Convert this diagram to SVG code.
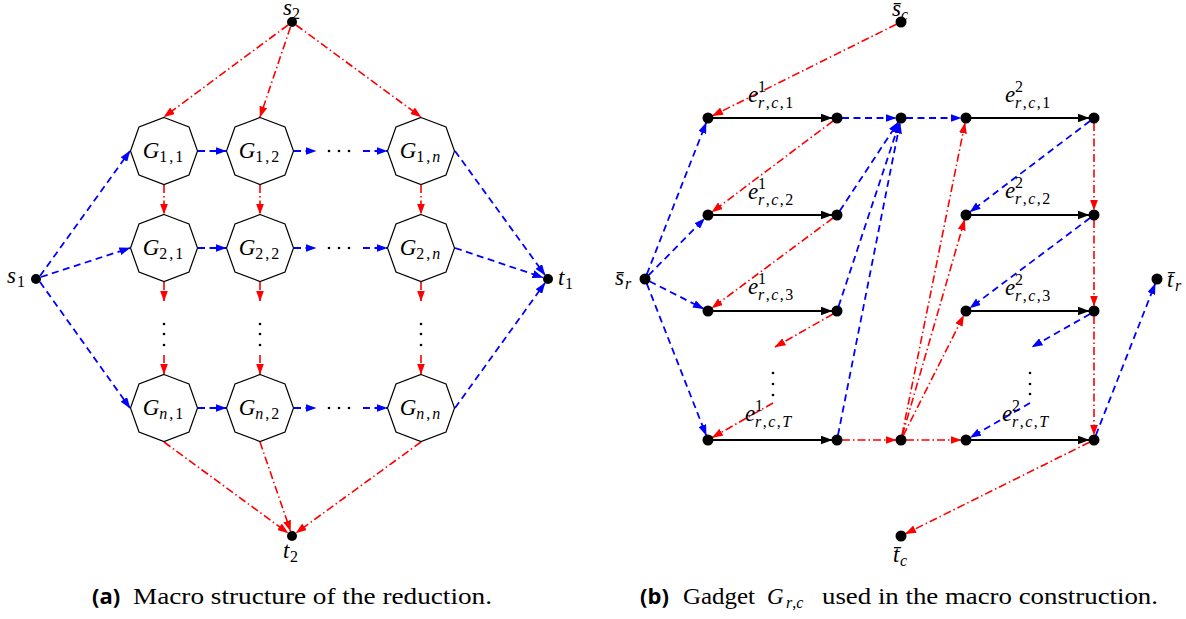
<svg xmlns="http://www.w3.org/2000/svg" width="1186" height="619" viewBox="0 0 1186 619">
<style>
.bl{stroke:#0000ff;stroke-width:1.8;stroke-dasharray:7 4.5;fill:none;marker-end:url(#ab)}
.rd{stroke:#ff0000;stroke-width:1.6;stroke-dasharray:8 3 1.5 3;fill:none;marker-end:url(#ar)}
.bk{stroke:#000;stroke-width:1.8;fill:none;marker-end:url(#ak)}
.oct{fill:#fff;stroke:#000;stroke-width:1.2}
.dot{fill:#000}
.m{font-style:italic;font-size:23px;fill:#000}
.sb{font-size:16px}
.rm{font-style:normal}
.cap{font-size:24px;fill:#000}
.lab{font-weight:bold;font-size:22px;fill:#000}
</style>
<defs>
<marker id="ab" markerUnits="userSpaceOnUse" markerWidth="11" markerHeight="8" refX="10.5" refY="4" orient="auto"><path d="M0,0 L11,4 L0,8 z" fill="#0000ff"/></marker>
<marker id="ar" markerUnits="userSpaceOnUse" markerWidth="11" markerHeight="8" refX="10.5" refY="4" orient="auto"><path d="M0,0 L11,4 L0,8 z" fill="#ff0000"/></marker>
<marker id="ak" markerUnits="userSpaceOnUse" markerWidth="12" markerHeight="9" refX="11.5" refY="4.5" orient="auto"><path d="M0,0 L12,4.5 L0,9 z" fill="#000"/></marker>
</defs>
<rect width="1186" height="619" fill="#fff"/>

<g id="connectors">
<line class="rd" x1="288" y1="25" x2="164" y2="117"/>
<line class="rd" x1="290.5" y1="27" x2="260" y2="117"/>
<line class="rd" x1="296" y1="25" x2="421" y2="117"/>
<line class="bl" x1="40" y1="276" x2="130" y2="151"/>
<line class="bl" x1="41" y1="277" x2="130" y2="248"/>
<line class="bl" x1="40" y1="282" x2="130" y2="408"/>
<line class="bl" x1="455" y1="151" x2="545" y2="275"/>
<line class="bl" x1="455" y1="248" x2="543" y2="277.5"/>
<line class="bl" x1="455" y1="408" x2="545" y2="283"/>
<line class="rd" x1="164" y1="442" x2="288" y2="533"/>
<line class="rd" x1="260" y1="442" x2="290.5" y2="531"/>
<line class="rd" x1="421" y1="442" x2="296" y2="533"/>
<line class="bl" x1="198" y1="151" x2="226" y2="151"/>
<line class="bl" x1="294" y1="151" x2="316" y2="151"/>
<line class="bl" x1="363" y1="151" x2="387" y2="151"/>
<line class="bl" x1="198" y1="248" x2="226" y2="248"/>
<line class="bl" x1="294" y1="248" x2="316" y2="248"/>
<line class="bl" x1="363" y1="248" x2="387" y2="248"/>
<line class="bl" x1="198" y1="408" x2="226" y2="408"/>
<line class="bl" x1="294" y1="408" x2="316" y2="408"/>
<line class="bl" x1="363" y1="408" x2="387" y2="408"/>
<line class="rd" x1="164" y1="185" x2="164" y2="214"/>
<line class="rd" x1="164" y1="282" x2="164" y2="301"/>
<line class="rd" x1="164" y1="355" x2="164" y2="374"/>
<line class="rd" x1="260" y1="185" x2="260" y2="214"/>
<line class="rd" x1="260" y1="282" x2="260" y2="301"/>
<line class="rd" x1="260" y1="355" x2="260" y2="374"/>
<line class="rd" x1="421" y1="185" x2="421" y2="214"/>
<line class="rd" x1="421" y1="282" x2="421" y2="301"/>
<line class="rd" x1="421" y1="355" x2="421" y2="374"/>

<line class="bl" x1="646.8" y1="274.3" x2="706.2" y2="122.7"/>
<line class="bl" x1="648.5" y1="275.4" x2="704.5" y2="218.6"/>
<line class="bl" x1="649.5" y1="281.3" x2="703.5" y2="308.7"/>
<line class="bl" x1="646.8" y1="283.7" x2="706.2" y2="435.3"/>
<line class="rd" x1="896.5" y1="24.2" x2="712.5" y2="115.8"/>
<line class="bk" x1="713" y1="118" x2="832" y2="118"/>
<line class="bk" x1="713" y1="215" x2="832" y2="215"/>
<line class="bk" x1="713" y1="311" x2="832" y2="311"/>
<line class="bk" x1="713" y1="440" x2="832" y2="440"/>
<line class="bk" x1="971" y1="118" x2="1089" y2="118"/>
<line class="bk" x1="971" y1="215" x2="1089" y2="215"/>
<line class="bk" x1="971" y1="311" x2="1089" y2="311"/>
<line class="bk" x1="971" y1="440" x2="1089" y2="440"/>
<line class="bl" x1="842" y1="118" x2="896" y2="118"/>
<line class="bl" x1="906" y1="118" x2="961" y2="118"/>
<line class="rd" x1="833" y1="121" x2="712" y2="212"/>
<line class="rd" x1="833" y1="218" x2="712" y2="308"/>
<line class="rd" x1="833" y1="314" x2="775" y2="347"/>
<line class="rd" x1="773" y1="403" x2="712.3" y2="437.5"/>
<line class="bl" x1="839.8" y1="210.8" x2="898.2" y2="122.2"/>
<line class="bl" x1="838.6" y1="306.3" x2="899.4" y2="122.7"/>
<line class="bl" x1="838" y1="435.1" x2="900" y2="122.9"/>
<line class="rd" x1="842" y1="440" x2="896" y2="440"/>
<line class="rd" x1="906" y1="440" x2="961" y2="440"/>
<line class="rd" x1="902" y1="435.1" x2="965" y2="122.9"/>
<line class="rd" x1="902.4" y1="435.2" x2="964.6" y2="219.8"/>
<line class="rd" x1="903.3" y1="435.5" x2="963.7" y2="315.5"/>
<line class="bl" x1="1090" y1="121" x2="970" y2="212"/>
<line class="bl" x1="1090" y1="218" x2="970" y2="308"/>
<line class="bl" x1="1090" y1="314" x2="1032" y2="347"/>
<line class="bl" x1="1030" y1="403" x2="970.3" y2="437.5"/>
<line class="rd" x1="1094" y1="123" x2="1094" y2="210"/>
<line class="rd" x1="1094" y1="220" x2="1094" y2="306"/>
<line class="rd" x1="1094" y1="316" x2="1094" y2="435"/>
<line class="bl" x1="1095.8" y1="435.3" x2="1155.2" y2="283.7"/>
<line class="rd" x1="1089.5" y1="442.2" x2="905.5" y2="533.8"/>
</g>

<g id="ellipses" class="dot">
<circle cx="329" cy="151" r="1.3"/><circle cx="339" cy="151" r="1.3"/><circle cx="349" cy="151" r="1.3"/>
<circle cx="329" cy="248" r="1.3"/><circle cx="339" cy="248" r="1.3"/><circle cx="349" cy="248" r="1.3"/>
<circle cx="329" cy="408" r="1.3"/><circle cx="339" cy="408" r="1.3"/><circle cx="349" cy="408" r="1.3"/>
<circle cx="164" cy="324" r="1.3"/><circle cx="164" cy="334" r="1.3"/><circle cx="164" cy="345" r="1.3"/>
<circle cx="260" cy="324" r="1.3"/><circle cx="260" cy="334" r="1.3"/><circle cx="260" cy="345" r="1.3"/>
<circle cx="421" cy="324" r="1.3"/><circle cx="421" cy="334" r="1.3"/><circle cx="421" cy="345" r="1.3"/>
<circle cx="773" cy="373" r="1.3"/><circle cx="773" cy="384" r="1.3"/><circle cx="773" cy="395" r="1.3"/>
<circle cx="1030" cy="373" r="1.3"/><circle cx="1030" cy="384" r="1.3"/><circle cx="1030" cy="394" r="1.3"/>
</g>

<g font-family="Liberation Serif, serif">
<g id="s2"><circle class="dot" cx="292" cy="22" r="5"/><text class="m" x="283" y="15">s<tspan class="sb rm" x="292" y="19">2</tspan></text></g>
<g id="s1"><circle class="dot" cx="36" cy="279" r="5"/><text class="m" x="7" y="283">s<tspan class="sb rm" x="17" y="287">1</tspan></text></g>
<g id="t1"><circle class="dot" cx="548" cy="279" r="5"/><text class="m" x="558" y="285">t<tspan class="sb rm" x="565" y="289">1</tspan></text></g>
<g id="t2"><circle class="dot" cx="292" cy="536" r="5"/><text class="m" x="283" y="558">t<tspan class="sb rm" x="290" y="562">2</tspan></text></g>

<g id="G11"><polygon class="oct" points="164,117.5 189,127 197.5,151 189,175 164,184.5 139,175 130.5,151 139,127"/><text class="m" x="164" y="158" text-anchor="middle">G<tspan class="sb rm" dy="4" letter-spacing="2">1,1</tspan></text></g>
<g id="G12"><polygon class="oct" points="260,117.5 285,127 293.5,151 285,175 260,184.5 235,175 226.5,151 235,127"/><text class="m" x="260" y="158" text-anchor="middle">G<tspan class="sb rm" dy="4" letter-spacing="2">1,2</tspan></text></g>
<g id="G1n"><polygon class="oct" points="421,117.5 446,127 454.5,151 446,175 421,184.5 396,175 387.5,151 396,127"/><text class="m" x="421" y="158" text-anchor="middle">G<tspan class="sb" dy="4" letter-spacing="2"><tspan class="rm">1,</tspan>n</tspan></text></g>
<g id="G21"><polygon class="oct" points="164,214.5 189,224 197.5,248 189,272 164,281.5 139,272 130.5,248 139,224"/><text class="m" x="164" y="255" text-anchor="middle">G<tspan class="sb rm" dy="4" letter-spacing="2">2,1</tspan></text></g>
<g id="G22"><polygon class="oct" points="260,214.5 285,224 293.5,248 285,272 260,281.5 235,272 226.5,248 235,224"/><text class="m" x="260" y="255" text-anchor="middle">G<tspan class="sb rm" dy="4" letter-spacing="2">2,2</tspan></text></g>
<g id="G2n"><polygon class="oct" points="421,214.5 446,224 454.5,248 446,272 421,281.5 396,272 387.5,248 396,224"/><text class="m" x="421" y="255" text-anchor="middle">G<tspan class="sb" dy="4" letter-spacing="2"><tspan class="rm">2,</tspan>n</tspan></text></g>
<g id="Gn1"><polygon class="oct" points="164,374.5 189,384 197.5,408 189,432 164,441.5 139,432 130.5,408 139,384"/><text class="m" x="164" y="415" text-anchor="middle">G<tspan class="sb" dy="4" letter-spacing="2">n<tspan class="rm">,1</tspan></tspan></text></g>
<g id="Gn2"><polygon class="oct" points="260,374.5 285,384 293.5,408 285,432 260,441.5 235,432 226.5,408 235,384"/><text class="m" x="260" y="415" text-anchor="middle">G<tspan class="sb" dy="4" letter-spacing="2">n<tspan class="rm">,2</tspan></tspan></text></g>
<g id="Gnn"><polygon class="oct" points="421,374.5 446,384 454.5,408 446,432 421,441.5 396,432 387.5,408 396,384"/><text class="m" x="421" y="415" text-anchor="middle">G<tspan class="sb" dy="4" letter-spacing="2">n<tspan class="rm">,</tspan>n</tspan></text></g>

<g id="sr"><circle class="dot" cx="645" cy="279" r="5.5"/><text class="m" x="615" y="285">s̄<tspan class="sb" x="625" y="289">r</tspan></text></g>
<g id="sc"><circle class="dot" cx="901" cy="22" r="5.5"/><text class="m" x="892" y="16">s̄<tspan class="sb" x="901" y="20">c</tspan></text></g>
<g id="tr"><circle class="dot" cx="1157" cy="279" r="5.5"/><text class="m" x="1167" y="287">t̄<tspan class="sb" x="1175" y="291">r</tspan></text></g>
<g id="tc"><circle class="dot" cx="901" cy="536" r="5.5"/><text class="m" x="893" y="562">t̄<tspan class="sb" x="900" y="566">c</tspan></text></g>
<g id="a1"><circle class="dot" cx="708" cy="118" r="5.5"/></g>
<g id="a2"><circle class="dot" cx="708" cy="215" r="5.5"/></g>
<g id="a3"><circle class="dot" cx="708" cy="311" r="5.5"/></g>
<g id="aT"><circle class="dot" cx="708" cy="440" r="5.5"/></g>
<g id="b1"><circle class="dot" cx="837" cy="118" r="5.5"/></g>
<g id="b2"><circle class="dot" cx="837" cy="215" r="5.5"/></g>
<g id="b3"><circle class="dot" cx="837" cy="311" r="5.5"/></g>
<g id="bT"><circle class="dot" cx="837" cy="440" r="5.5"/></g>
<g id="c"><circle class="dot" cx="901" cy="118" r="5.5"/></g>
<g id="f"><circle class="dot" cx="901" cy="440" r="5.5"/></g>
<g id="d1"><circle class="dot" cx="966" cy="118" r="5.5"/></g>
<g id="d2"><circle class="dot" cx="966" cy="215" r="5.5"/></g>
<g id="d3"><circle class="dot" cx="966" cy="311" r="5.5"/></g>
<g id="dT"><circle class="dot" cx="966" cy="440" r="5.5"/></g>
<g id="e1"><circle class="dot" cx="1094" cy="118" r="5.5"/></g>
<g id="e2"><circle class="dot" cx="1094" cy="215" r="5.5"/></g>
<g id="e3"><circle class="dot" cx="1094" cy="311" r="5.5"/></g>
<g id="eT"><circle class="dot" cx="1094" cy="440" r="5.5"/></g>

<g id="edge-labels">
<text class="m" x="748" y="102">e<tspan class="sb rm" x="758" y="92">1</tspan><tspan class="sb" x="758" y="108" letter-spacing="1.5">r<tspan class="rm">,</tspan>c<tspan class="rm">,1</tspan></tspan></text>
<text class="m" x="748" y="199">e<tspan class="sb rm" x="758" y="189">1</tspan><tspan class="sb" x="758" y="205" letter-spacing="1.5">r<tspan class="rm">,</tspan>c<tspan class="rm">,2</tspan></tspan></text>
<text class="m" x="748" y="294">e<tspan class="sb rm" x="758" y="284">1</tspan><tspan class="sb" x="758" y="300" letter-spacing="1.5">r<tspan class="rm">,</tspan>c<tspan class="rm">,3</tspan></tspan></text>
<text class="m" x="745" y="421">e<tspan class="sb rm" x="755" y="411">1</tspan><tspan class="sb" x="755" y="427" letter-spacing="1.5">r<tspan class="rm">,</tspan>c<tspan class="rm">,</tspan>T</tspan></text>
<text class="m" x="1005" y="102">e<tspan class="sb rm" x="1015" y="92">2</tspan><tspan class="sb" x="1015" y="108" letter-spacing="1.5">r<tspan class="rm">,</tspan>c<tspan class="rm">,1</tspan></tspan></text>
<text class="m" x="1005" y="198">e<tspan class="sb rm" x="1015" y="188">2</tspan><tspan class="sb" x="1015" y="204" letter-spacing="1.5">r<tspan class="rm">,</tspan>c<tspan class="rm">,2</tspan></tspan></text>
<text class="m" x="1005" y="295">e<tspan class="sb rm" x="1015" y="285">2</tspan><tspan class="sb" x="1015" y="301" letter-spacing="1.5">r<tspan class="rm">,</tspan>c<tspan class="rm">,3</tspan></tspan></text>
<text class="m" x="1002" y="421">e<tspan class="sb rm" x="1012" y="411">2</tspan><tspan class="sb" x="1012" y="427" letter-spacing="1.5">r<tspan class="rm">,</tspan>c<tspan class="rm">,</tspan>T</tspan></text>
</g>

<g id="captions">
<text class="lab" font-family="Open Sans, sans-serif" x="92" y="604">(a)</text>
<text class="cap" x="133" y="604" textLength="359" lengthAdjust="spacingAndGlyphs">Macro structure of the reduction.</text>
<text class="lab" font-family="Open Sans, sans-serif" x="640" y="604">(b)</text>
<text class="cap" x="683" y="604" textLength="72" lengthAdjust="spacingAndGlyphs">Gadget</text>
<text class="m" x="767" y="604" font-size="24">G<tspan class="sb" x="786" y="608">r<tspan class="rm">,</tspan>c</tspan></text>
<text class="cap" x="822" y="604" textLength="336" lengthAdjust="spacingAndGlyphs">used in the macro construction.</text>
</g>
</g>
</svg>
